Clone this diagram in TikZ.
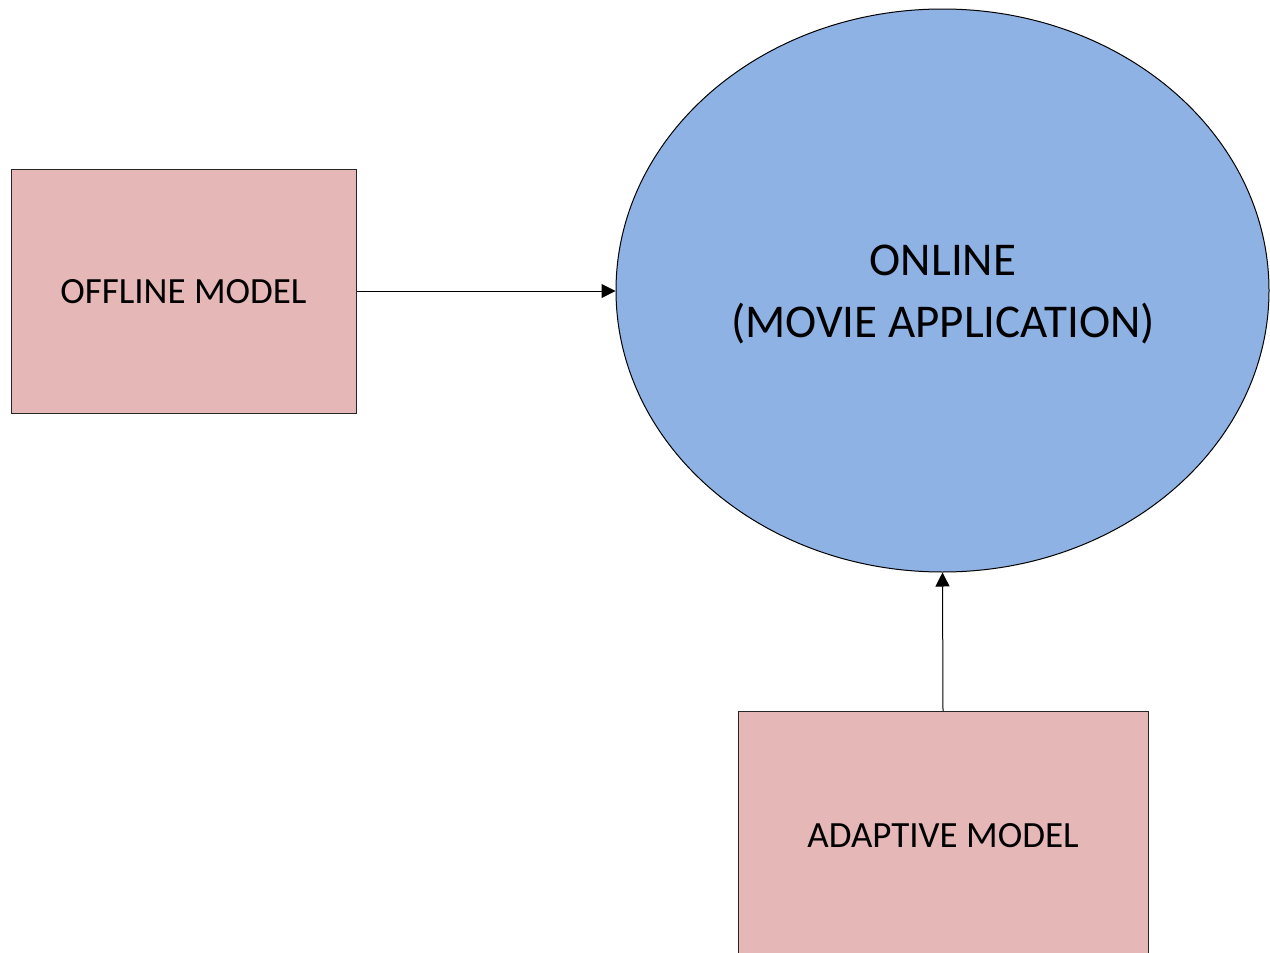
\documentclass[tikz,border=0pt]{standalone}
\usepackage{fontspec}
\setmainfont{Carlito}
\usetikzlibrary{shapes.geometric,arrows.meta}
\definecolor{boxfill}{HTML}{E5B8B7}
\definecolor{ovalfill}{HTML}{8DB2E3}
\tikzset{
  modelbox/.style={draw=black!85, line width=1pt, fill=boxfill, inner sep=0pt},
  oval/.style={ellipse, draw=black, line width=1pt, fill=ovalfill, inner sep=0pt,
    minimum width=653pt, minimum height=563pt},
  ovaltext/.style={align=center, font=\fontsize{47}{62}\selectfont},
  label/.style={font=\fontsize{37}{44}\selectfont},
  flow/.style={line width=1pt, -{Triangle[length=14pt,width=14pt]}}
}
\begin{document}
\begin{tikzpicture}[x=1pt,y=-1pt]
  \useasboundingbox (0,0) rectangle (1270,953);
  \clip (0,0) rectangle (1270,953);
  % offline model block
  \node[modelbox, minimum width=345pt, minimum height=244pt] (offline) at (183.5,291) {};
  \node[label] (offlinetext) at (183.5,292) {OFFLINE MODEL};
  % online application
  \node[oval] (online) at (942.5,290.5) {};
  \node[ovaltext] (onlinetext) at (943,295) {ONLINE\\(MOVIE APPLICATION)};
  % adaptive model block, running past the lower edge
  \node[modelbox, anchor=north, minimum width=410pt, minimum height=260pt] (adaptive) at (943,711) {};
  \node[label] (adaptivetext) at (943,836) {ADAPTIVE MODEL};
  % connections
  \draw[flow] (offline.east |- 0,291) -- (online.west |- 0,291);
  \draw[flow] (adaptive.north) -- (online.south);
\end{tikzpicture}
\end{document}
